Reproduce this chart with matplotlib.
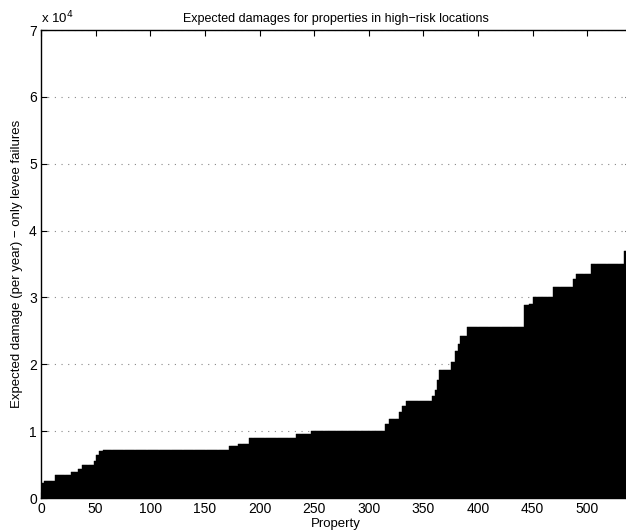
import numpy as np
import matplotlib
matplotlib.use('Agg')
import matplotlib.pyplot as plt

plt.rcParams['font.family'] = ['Liberation Sans', 'DejaVu Sans']

run_counts = [2, 10, 15, 6, 4, 11, 2, 3, 3, 116, 8, 10, 43, 14, 67,
              4, 9, 3, 4, 23, 3, 2, 2, 11, 3, 3, 2, 6, 53,
              4, 4, 18, 18, 3, 14, 30, 4]
run_levels = [2200, 2600, 3500, 3850, 4300, 4900, 5500, 6500, 7000, 7250,
              7750, 8150, 8900, 9550, 10000,
              11000, 11800, 12800, 13800, 14500, 15200, 16200, 17600, 19100,
              20300, 22000, 23100, 24300, 25600,
              28800, 29000, 30000, 31600, 32800, 33500, 35000, 37000]

damage = np.repeat(run_levels, run_counts)
prop = np.arange(1, len(damage) + 1)

x_ticks = np.arange(0, 501, 50)
y_ticks = np.arange(0, 70001, 10000)
y_tick_labels = [str(int(v / 1e4)) for v in y_ticks]

fig = plt.figure(figsize=(6.26, 5.31), dpi=100)
ax = fig.add_axes([41 / 626, 33 / 531, 590 / 626, 468 / 531])

ax.bar(prop, damage, width=1.0, color='black', edgecolor='black', linewidth=0.3)

ax.set_xlim(0, 540)
ax.set_ylim(0, 70000)
ax.set_xticks(x_ticks)
ax.set_yticks(y_ticks)
ax.set_yticklabels(y_tick_labels)
ax.tick_params(direction='in', length=4, labelsize=10, top=True, right=True,
               width=0.8, pad=3)
ax.set_axisbelow(True)
ax.yaxis.grid(True, linestyle=(0, (1, 5)), color='#888888', linewidth=0.8)

for s in ax.spines.values():
    s.set_linewidth(1.0)

ax.set_title('Expected damages for properties in high\u2212risk locations',
             fontsize=9, pad=6)
ax.set_xlabel('Property', fontsize=9.5, labelpad=1)
ax.set_ylabel('Expected damage (per year) \u2212 only levee failures',
              fontsize=9.5, labelpad=4)
ax.text(0.0, 1.008, 'x 10$^4$', transform=ax.transAxes, fontsize=9.5,
        ha='left', va='bottom')

fig.savefig('out.png', dpi=100)
